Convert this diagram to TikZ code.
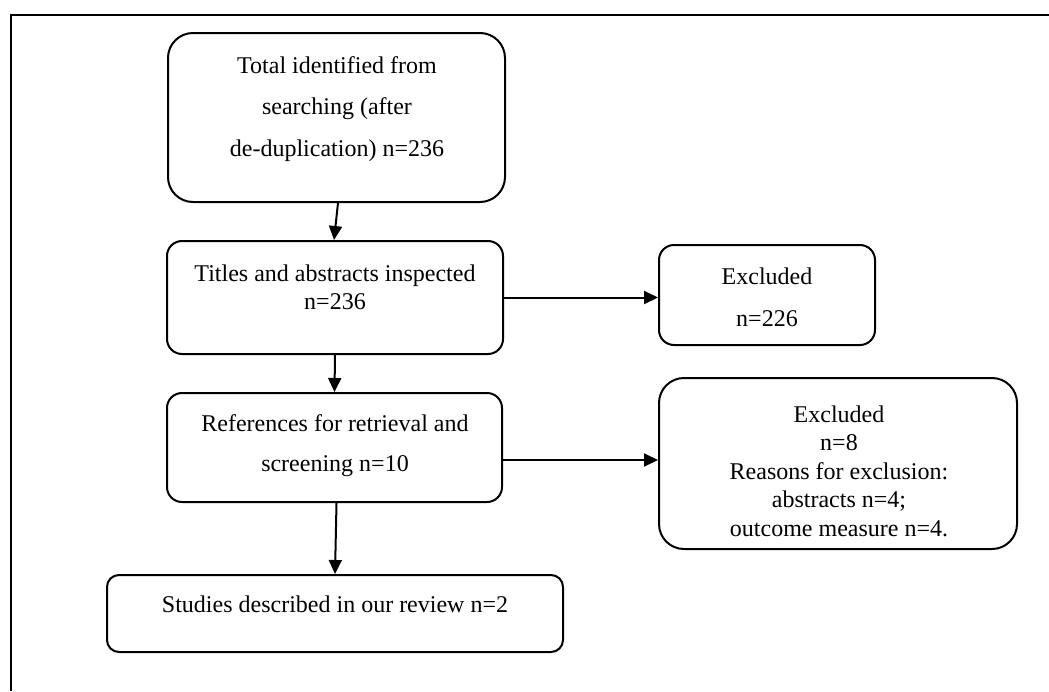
\documentclass[tikz,border=0pt]{standalone}
\usepackage{fontspec}
\setmainfont{Liberation Serif}
\usetikzlibrary{arrows.meta}
\tikzset{
  box/.style={draw, line width=2pt, inner sep=0pt},
  txt/.style={inner sep=0pt, align=center},
  arr/.style={line width=2pt, -{Triangle[length=14pt,width=13pt]}},
  frame/.style={line width=2.8pt}
}
\begin{document}
\begin{tikzpicture}[x=1pt,y=-1pt]
\useasboundingbox (0,0) rectangle (1049,691);
\coordinate (fa) at (11,691);
\coordinate (fb) at (11,15);
\coordinate (fc) at (1049,15);
\draw[frame] (fa) -- (fb) -- (fc);

\node[box, rounded corners=25pt, minimum width=337pt, minimum height=169pt] (b1) at (336.5,117.5) {};
\node[box, rounded corners=15pt, minimum width=336pt, minimum height=113pt] (b2) at (335,297.5) {};
\node[box, rounded corners=15pt, minimum width=216pt, minimum height=100pt] (b3) at (767,295) {};
\node[box, rounded corners=15pt, minimum width=335pt, minimum height=109pt] (b4) at (334.5,447.5) {};
\node[box, rounded corners=25pt, minimum width=358pt, minimum height=171pt] (b5) at (838,463.5) {};
\node[box, rounded corners=12pt, minimum width=456pt, minimum height=77pt] (b6) at (335,613.5) {};

\node[txt, font=\fontsize{24}{41.5}\selectfont] (t1) at (337,109) {Total identified from\\searching (after\\de-duplication) n=236};
\node[txt, font=\fontsize{24}{28}\selectfont] (t2) at (335,287) {Titles and abstracts inspected\\n=236};
\node[txt, font=\fontsize{24}{42}\selectfont] (t3) at (767,297) {Excluded\\n=226};
\node[txt, font=\fontsize{24}{40}\selectfont] (t4) at (335,446) {References for retrieval and\\screening n=10};
\node[txt, font=\fontsize{24}{28.5}\selectfont] (t5) at (839,471) {Excluded\\n=8\\Reasons for exclusion:\\abstracts n=4;\\outcome measure n=4.};
\node[txt, font=\fontsize{24}{28}\selectfont] (t6) at (335,604) {Studies described in our review n=2};

\draw[arr] ([xshift=1.5pt]b1.south) -- ([xshift=-1pt]b2.north);
\draw[arr] (b2.south) -- (b4.north);
\draw[arr] ([xshift=2pt]b4.south) -- (b6.north);
\draw[arr] (b2.east) -- (b2.east -| b3.west);
\draw[arr] ([yshift=-12.5pt]b4.east) -- ([yshift=-12.5pt]b4.east -| b5.west);
\end{tikzpicture}
\end{document}
